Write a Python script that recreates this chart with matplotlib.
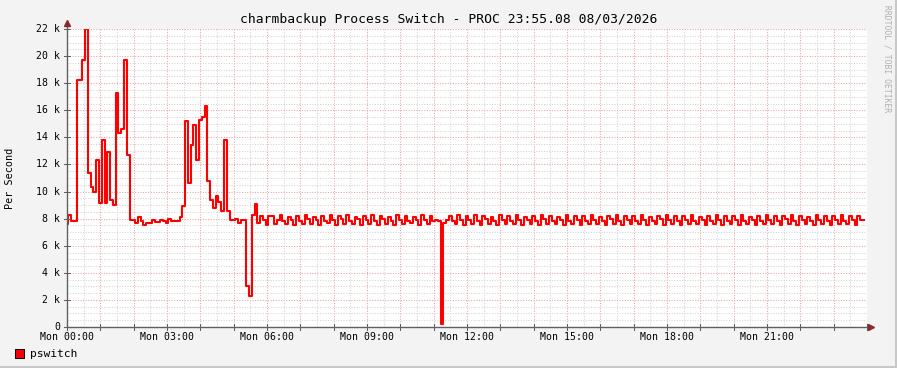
import matplotlib
matplotlib.use('Agg')
import matplotlib.pyplot as plt
import numpy as np
from matplotlib.lines import Line2D
from matplotlib.patches import Rectangle
from matplotlib.ticker import FuncFormatter, MultipleLocator

title = 'charmbackup Process Switch - PROC 23:55.08 08/03/2026'
series_name = 'pswitch'
y_label = 'Per Second'
watermark = 'RRDTOOL / TOBI OETIKER'
step_minutes = 5

tick_hours = [0, 3, 6, 9, 12, 15, 18, 21]
tick_labels = ['Mon 00:00', 'Mon 03:00', 'Mon 06:00', 'Mon 09:00',
               'Mon 12:00', 'Mon 15:00', 'Mon 18:00', 'Mon 21:00']
y_ticks_k = [0, 2, 4, 6, 8, 10, 12, 14, 16, 18, 20, 22]

# process switches per second (thousands), one 5-minute step each, one row per hour
pswitch_k = [
    7.6, 8.3, 7.8, 7.8, 18.2, 18.2, 19.7, 22.0, 11.4, 10.3, 10.0, 12.3,
    9.15, 13.8, 9.15, 12.9, 9.4, 9.0, 17.3, 14.3, 14.6, 19.7, 12.7, 7.9,
    7.9, 7.65, 8.1, 7.8, 7.5, 7.7, 7.7, 7.9, 7.75, 7.75, 7.9, 7.8,
    7.7, 8.0, 7.8, 7.8, 7.8, 8.1, 8.9, 15.2, 10.6, 13.4, 14.9, 12.3,
    15.3, 15.5, 16.3, 10.8, 9.4, 8.8, 9.7, 9.2, 8.6, 13.8, 8.6, 7.9,
    7.9, 8.0, 7.7, 7.9, 7.9, 3.0, 2.3, 8.3, 9.05, 7.65, 8.2, 7.9,
    7.5, 8.2, 8.2, 7.6, 7.9, 8.3, 7.8, 7.6, 8.1, 7.9, 7.5, 8.2,
    7.8, 7.6, 8.3, 8.0, 7.6, 8.1, 7.9, 7.5, 8.2, 7.8, 7.7, 8.3,
    7.9, 7.5, 8.2, 8.0, 7.6, 8.3, 7.8, 7.6, 8.1, 8.0, 7.5, 8.2,
    7.9, 7.6, 8.3, 7.8, 7.5, 8.2, 8.0, 7.6, 8.1, 7.8, 7.5, 8.3,
    7.9, 7.6, 8.2, 7.8, 7.7, 8.1, 7.9, 7.5, 8.3, 7.9, 7.6, 8.2,
    7.8, 7.9, 7.85, 0.2, 7.65, 7.9, 8.2, 7.8, 7.6, 8.3, 7.9, 7.5,
    8.2, 7.9, 7.6, 8.3, 7.8, 7.5, 8.2, 8.0, 7.6, 8.1, 7.8, 7.5,
    8.3, 7.9, 7.6, 8.2, 7.8, 7.6, 8.3, 7.9, 7.5, 8.1, 7.9, 7.6,
    8.2, 7.8, 7.5, 8.3, 8.0, 7.6, 8.2, 7.8, 7.6, 8.1, 7.9, 7.5,
    8.3, 7.8, 7.6, 8.2, 7.9, 7.5, 8.2, 7.8, 7.6, 8.3, 7.9, 7.6,
    8.1, 7.8, 7.5, 8.2, 8.0, 7.6, 8.3, 7.8, 7.5, 8.2, 7.9, 7.6,
    8.2, 7.8, 7.6, 8.3, 7.9, 7.5, 8.1, 7.8, 7.6, 8.2, 8.0, 7.5,
    8.3, 7.9, 7.6, 8.2, 7.8, 7.5, 8.2, 7.9, 7.6, 8.3, 7.8, 7.6,
    8.1, 7.9, 7.5, 8.2, 7.8, 7.6, 8.3, 7.9, 7.5, 8.2, 7.8, 7.6,
    8.2, 7.9, 7.5, 8.3, 7.8, 7.6, 8.1, 7.9, 7.5, 8.2, 7.8, 7.6,
    8.3, 7.9, 7.6, 8.2, 7.8, 7.5, 8.2, 8.0, 7.6, 8.3, 7.8, 7.5,
    8.2, 7.9, 7.6, 8.1, 7.8, 7.5, 8.3, 7.9, 7.6, 8.2, 7.8, 7.5,
    8.2, 7.9, 7.6, 8.3, 7.8, 7.6, 8.2, 7.9, 7.5, 8.2, 7.9, 7.9,
]

plt.rcParams['font.family'] = 'DejaVu Sans Mono'

W, H = 897, 368
def fx(px):
    return px / W
def fy(py):
    return 1 - py / H

fig = plt.figure(figsize=(W / 100, H / 100), dpi=100, facecolor='#f3f3f3')
ax = fig.add_axes([fx(67), fy(327), 800 / W, 298 / H])
ax.set_facecolor('white')

hours = np.arange(len(pswitch_k)) * step_minutes / 60.0
values = np.array(pswitch_k) * 1000
ax.plot(hours, values, drawstyle='steps-mid', color='#ff0000', lw=1.5, zorder=5)

ax.set_xlim(0, 24)
ax.set_ylim(0, 22000)

# grid like rrdtool: minor grey, major pink
ax.xaxis.set_major_locator(MultipleLocator(1))
ax.xaxis.set_minor_locator(MultipleLocator(0.5))
ax.yaxis.set_major_locator(MultipleLocator(2000))
ax.yaxis.set_minor_locator(MultipleLocator(500))
ax.grid(which='minor', color='#d4d4d4', lw=0.75, ls=(0, (1, 1.5)), zorder=1)
ax.grid(which='major', color='#eea0a0', lw=0.75, ls=(0, (1, 1.5)), zorder=2)

for s in ax.spines.values():
    s.set_visible(False)

ax.tick_params(axis='both', which='both', length=0, labelbottom=False, labelleft=False)

# tick labels
for h, lab in zip(tick_hours, tick_labels):
    ax.text(h, -330 / 298 * 0 - 0.035 * 22000, lab, ha='center', va='center',
            fontsize=7.1, color='#000000', clip_on=False)
for v in y_ticks_k:
    lab = '0' if v == 0 else f'{v} k'
    ax.text(-7 / 800 * 24, v * 1000, lab, ha='right', va='center',
            fontsize=7.1, color='#000000', clip_on=False)
    ax.plot([-3 / 800 * 24, 3 / 800 * 24], [v * 1000, v * 1000], color='#606060',
            lw=0.75, clip_on=False, zorder=6)
for h in np.arange(0, 24.01, 1):
    ax.plot([h, h], [-3 / 298 * 22000, 3 / 298 * 22000], color='#606060',
            lw=0.75, clip_on=False, zorder=6)

# axes with arrows
ax.plot([0, 0], [0, 1 + 8 / 298], transform=ax.transAxes, color='#606060',
        lw=1, clip_on=False, zorder=6)
ax.plot([0, 1 + 5 / 800], [0, 0], transform=ax.transAxes, color='#606060',
        lw=1, clip_on=False, zorder=6)
ax.plot([0], [1 + 6 / 298], transform=ax.transAxes, marker='^', ms=5,
        color='#8a2a2a', clip_on=False, zorder=7)
ax.plot([1 + 4 / 800], [0], transform=ax.transAxes, marker='>', ms=5,
        color='#8a2a2a', clip_on=False, zorder=7)

fig.text(0.5, fy(19), title, ha='center', va='center', fontsize=9.4, color='#000000')
fig.text(fx(10), fy(178), y_label, ha='center', va='center', rotation=90,
         fontsize=7.3, color='#000000')
fig.text(fx(887), fy(5), watermark, ha='center', va='top', rotation=-90,
         fontsize=5.8, color='#b0b0b0')

# legend
fig.patches.append(Rectangle((fx(15), fy(358)), 9 / W, 9 / H, transform=fig.transFigure,
                             facecolor='#ff0000', edgecolor='#000000', lw=0.75))
fig.text(fx(30), fy(354), series_name, ha='left', va='center', fontsize=8.1, color='#000000')

# frame shading
fig.add_artist(Line2D([0, 1], [fy(367), fy(367)], transform=fig.transFigure,
                      color='#c8c8c8', lw=1.5))
fig.add_artist(Line2D([fx(896), fx(896)], [0, 1], transform=fig.transFigure,
                      color='#c8c8c8', lw=1.5))

fig.savefig('out.png', dpi=100, facecolor=fig.get_facecolor())
